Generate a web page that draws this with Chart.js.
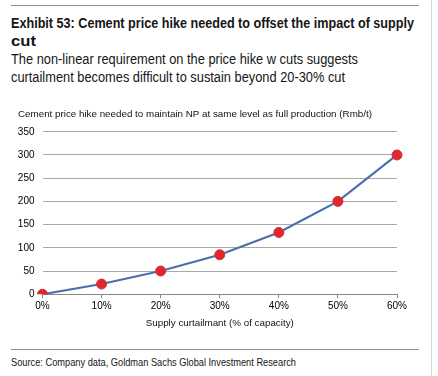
<!DOCTYPE html>
<html>
<head>
<meta charset="utf-8">
<script src="https://cdn.jsdelivr.net/npm/chart.js@4"></script>
<style>
	body { margin: 0; background: #fff; width: 438px; height: 376px; overflow: hidden; position: relative; }
	.rule { position: absolute; left: 11px; width: 408px; height: 1px; background: #8c8c8c; }
	.edge { position: absolute; left: 431px; top: 0; width: 1px; height: 376px; background: #d8d8d8; }
	.txt { position: absolute; left: 11px; white-space: nowrap; font-family: 'Liberation Sans', Arial, sans-serif; color: #161616; transform-origin: 0 0; line-height: 1; }
	.bold { font-weight: bold; font-size: 14.5px; }
	.sub { font-size: 14px; }
	#wrap { position: absolute; left: 0; top: 100px; width: 438px; height: 236px; }
</style>
</head>
<body>
<div class="rule" style="top:5px"></div>
<div class="edge"></div>
<div class="txt bold" style="top:16.2px" data-w="403">Exhibit 53: Cement price hike needed to offset the impact of supply</div>
<div class="txt bold" style="top:33.5px" data-w="25">cut</div>
<div class="txt sub" style="top:52.2px" data-w="347">The non-linear requirement on the price hike w cuts suggests</div>
<div class="txt sub" style="top:69.7px" data-w="334">curtailment becomes difficult to sustain beyond 20-30% cut</div>
<div id="wrap"><canvas id="lineChart"></canvas></div>
<div class="rule" style="top:349px"></div>
<div class="txt" style="top:356.5px; font-size:11.5px" data-w="285">Source: Company data, Goldman Sachs Global Investment Research</div>
<script>
// chart data
const cutLabels = ['0%', '10%', '20%', '30%', '40%', '50%', '60%'];
const priceHike = [0, 22, 50, 85, 133, 200, 300];
const yTicks = [0, 50, 100, 150, 200, 250, 300, 350];

const chartTitle = 'Cement price hike needed to maintain NP at same level as full production (Rmb/t)';
const xTitle = 'Supply curtailmant (% of capacity)';

// squeeze the narrow report text to its width
document.querySelectorAll('.txt').forEach(function (el) {
	var w = el.getBoundingClientRect().width;
	el.style.transform = 'scaleX(' + (el.dataset.w / w) + ')';
});

Chart.defaults.font.family = "'Liberation Sans', Arial, sans-serif";
Chart.defaults.color = '#111';

var ctx = document.getElementById('lineChart');
new Chart(ctx, {
	type: 'line',
	data: {
		labels: cutLabels,
		datasets: [
			{
				data: priceHike,
				borderColor: '#4a70ac',
				borderWidth: 2.2,
				tension: 0,
				pointRadius: 5,
				pointBackgroundColor: '#e3262b',
				pointBorderColor: '#c8343a',
				pointBorderWidth: 1
			}
		]
	},
	options: {
		responsive: true,
		maintainAspectRatio: false,
		animation: false,
		layout: { padding: { left: 18, right: 41, top: 0, bottom: 7 } },
		plugins: {
			legend: { display: false },
			tooltip: { enabled: false },
			title: {
				display: true,
				text: chartTitle,
				align: 'start',
				font: { size: 9.8, weight: 'normal' },
				padding: { top: 8, bottom: 12 }
			}
		},
		scales: {
			x: {
				type: 'category',
				offset: false,
				grid: { drawOnChartArea: false, drawTicks: true, tickLength: 4, color: '#888' },
				border: { display: true, color: '#888', width: 1 },
				ticks: { font: { size: 10 }, color: '#000', padding: 2, maxRotation: 0 },
				title: { display: true, text: xTitle, font: { size: 9.8 }, padding: { top: 3, bottom: 0 } }
			},
			y: {
				min: 0,
				max: 350,
				afterBuildTicks: function (axis) {
					axis.ticks = yTicks.map(v => ({ value: v }));
				},
				afterFit: function (axis) {
					axis.width = 24.5;
				},
				grid: { color: '#a8a8a8', drawTicks: false },
				border: { display: false },
				ticks: { font: { size: 10 }, color: '#000', padding: 8 }
			}
		}
	}
});
</script>
</body>
</html>
